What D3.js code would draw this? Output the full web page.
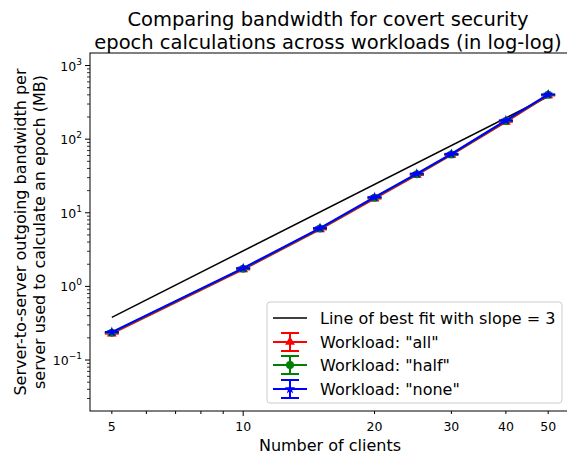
<!DOCTYPE html>
<html>
<head>
<meta charset="utf-8">
<script src="https://cdn.jsdelivr.net/npm/d3@7"></script>
<style>
  body { margin: 0; background: #fff; }
  svg { display: block; font-family: "DejaVu Sans", sans-serif; }
</style>
</head>
<body>
<svg id="chart" width="567" height="457"></svg>
<script>
// number of clients
const clients = [5, 10, 15, 20, 25, 30, 40, 50];
// bandwidth (MB) per workload
const workloadAll = [0.228, 1.70, 5.95, 15.6, 32.6, 61, 172, 392];
const workloadHalf = [0.235, 1.74, 6.1, 16.0, 33.4, 62, 177, 400];
const workloadNone = [0.24, 1.77, 6.2, 16.3, 34, 63, 180, 405];
// best fit line endpoints
const fitX = [5, 50];
const fitY = [0.38, 380];

const xTickVals = [5, 10, 20, 30, 40, 50];
const xMinorVals = [6, 7, 8, 9];
const yTickExps = [-1, 0, 1, 2, 3];

const svg = d3.select("#chart");
const margin = { left: 90, right: 570, top: 53, bottom: 411 };

const x = d3.scaleLog().domain([4.456, 56.1]).range([margin.left, margin.right]);
const y = d3.scaleLog().domain([0.0203, 1480]).range([margin.bottom, margin.top]);

// clip for plot area
svg.append("defs").append("clipPath").attr("id", "clip")
    .append("rect")
    .attr("x", margin.left).attr("y", margin.top)
    .attr("width", margin.right - margin.left)
    .attr("height", margin.bottom - margin.top);

const plot = svg.append("g").attr("clip-path", "url(#clip)");

// best fit line
plot.append("path")
    .datum(fitX.map((d, i) => [d, fitY[i]]))
    .attr("fill", "none")
    .attr("stroke", "black")
    .attr("stroke-width", 1.5)
    .attr("d", d3.line().x(d => x(d[0])).y(d => y(d[1])));

const series = [
    { name: 'Workload: "all"', values: workloadAll, color: "red", marker: "triangle" },
    { name: 'Workload: "half"', values: workloadHalf, color: "green", marker: "circle" },
    { name: 'Workload: "none"', values: workloadNone, color: "blue", marker: "star" }
];

function drawMarker(g, type, color) {
    if (type === "triangle") {
        g.append("path").attr("d", d3.symbol(d3.symbolTriangle, 42)()).attr("fill", color);
    } else if (type === "circle") {
        g.append("circle").attr("r", 4).attr("fill", color);
    } else {
        g.append("path").attr("d", d3.symbol(d3.symbolStar, 34)()).attr("fill", color);
    }
}

series.forEach(s => {
    const pts = clients.map((c, i) => [c, s.values[i]]);
    const g = plot.append("g");
    g.append("path")
        .datum(pts)
        .attr("fill", "none")
        .attr("stroke", s.color)
        .attr("stroke-width", 2)
        .attr("d", d3.line().x(d => x(d[0])).y(d => y(d[1])));
    pts.forEach(p => {
        const m = g.append("g").attr("transform", `translate(${x(p[0])},${y(p[1])})`);
        // zero-length error bar caps
        m.append("line").attr("x1", -7).attr("x2", 7)
            .attr("stroke", s.color).attr("stroke-width", 2);
        drawMarker(m, s.marker, s.color);
    });
});

// spines
svg.append("rect")
    .attr("x", margin.left).attr("y", margin.top)
    .attr("width", margin.right - margin.left)
    .attr("height", margin.bottom - margin.top)
    .attr("fill", "none").attr("stroke", "black").attr("stroke-width", 1);

// x axis ticks
const xAxis = svg.append("g");
xTickVals.forEach(v => {
    const len = v === 10 ? 5 : 3;
    xAxis.append("line").attr("x1", x(v)).attr("x2", x(v))
        .attr("y1", margin.bottom).attr("y2", margin.bottom + len).attr("stroke", "black");
    xAxis.append("text").attr("x", x(v)).attr("y", margin.bottom + 20)
        .attr("text-anchor", "middle").attr("font-size", 12.5).text(v);
});
xMinorVals.forEach(v => {
    xAxis.append("line").attr("x1", x(v)).attr("x2", x(v))
        .attr("y1", margin.bottom).attr("y2", margin.bottom + 3).attr("stroke", "black");
});

// y axis ticks
const yAxis = svg.append("g");
yTickExps.forEach(e => {
    const v = Math.pow(10, e);
    yAxis.append("line").attr("x1", margin.left - 5).attr("x2", margin.left)
        .attr("y1", y(v)).attr("y2", y(v)).attr("stroke", "black");
    const t = yAxis.append("text").attr("x", margin.left - 8).attr("y", y(v) + 5)
        .attr("text-anchor", "end").attr("font-size", 12.5);
    t.append("tspan").text("10");
    t.append("tspan").attr("dy", -6).attr("font-size", 9).text(e < 0 ? "\u2212" + Math.abs(e) : e);
});
d3.range(-2, 4).forEach(e => {
    d3.range(2, 10).forEach(k => {
        const v = k * Math.pow(10, e);
        if (v < 0.0203 || v > 1480) return;
        yAxis.append("line").attr("x1", margin.left - 3).attr("x2", margin.left)
            .attr("y1", y(v)).attr("y2", y(v)).attr("stroke", "black").attr("stroke-width", 0.8);
    });
});

// axis labels
svg.append("text").attr("x", 330).attr("y", 451)
    .attr("text-anchor", "middle").attr("font-size", 16).text("Number of clients");

const yl = svg.append("text").attr("transform", `translate(26,${(margin.top + margin.bottom) / 2}) rotate(-90)`)
    .attr("text-anchor", "middle").attr("font-size", 16);
yl.append("tspan").attr("x", 0).attr("dy", 0).text("Server-to-server outgoing bandwidth per");
yl.append("tspan").attr("x", 0).attr("dy", 19).text("server used to calculate an epoch (MB)");

// title
const title = svg.append("text").attr("x", 328).attr("y", 26)
    .attr("text-anchor", "middle").attr("font-size", 19.5);
title.append("tspan").attr("x", 328).text("Comparing bandwidth for covert security");
title.append("tspan").attr("x", 328).attr("dy", 23).text("epoch calculations across workloads (in log-log)");

// legend
const legend = svg.append("g").attr("transform", "translate(267,302)");
legend.append("rect").attr("width", 295).attr("height", 101).attr("rx", 3)
    .attr("fill", "white").attr("fill-opacity", 0.8).attr("stroke", "#ccc");
const rowY = [16, 40, 63, 87];
const lg0 = legend.append("g").attr("transform", `translate(0,${rowY[0]})`);
lg0.append("line").attr("x1", 6).attr("x2", 40).attr("stroke", "black").attr("stroke-width", 1.5);
lg0.append("text").attr("x", 53).attr("y", 6).attr("font-size", 16).text("Line of best fit with slope = 3");
series.forEach((s, i) => {
    const g = legend.append("g").attr("transform", `translate(0,${rowY[i + 1]})`);
    g.append("line").attr("x1", 6).attr("x2", 40).attr("stroke", s.color).attr("stroke-width", 2);
    g.append("line").attr("x1", 23).attr("x2", 23).attr("y1", -9).attr("y2", 9).attr("stroke", s.color).attr("stroke-width", 2);
    g.append("line").attr("x1", 14).attr("x2", 32).attr("y1", -9).attr("y2", -9).attr("stroke", s.color).attr("stroke-width", 2);
    g.append("line").attr("x1", 14).attr("x2", 32).attr("y1", 9).attr("y2", 9).attr("stroke", s.color).attr("stroke-width", 2);
    const m = g.append("g").attr("transform", "translate(23,0)");
    drawMarker(m, s.marker, s.color);
    g.append("text").attr("x", 53).attr("y", 6).attr("font-size", 16).text(s.name);
});
</script>
</body>
</html>
